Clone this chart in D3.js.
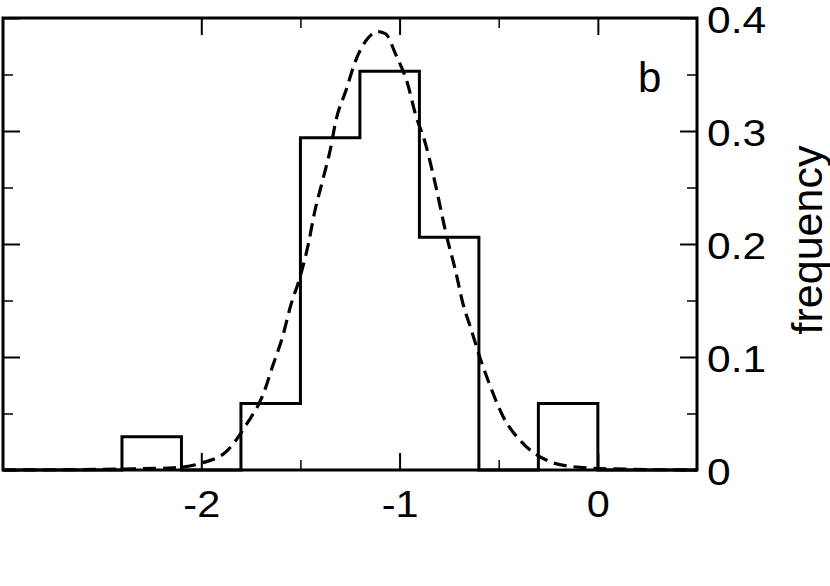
<!DOCTYPE html>
<html>
<head>
<meta charset="utf-8">
<script src="https://cdn.jsdelivr.net/npm/d3@7"></script>
<style>
  body { margin: 0; background: #fff; }
  text { font-family: "Liberation Sans", Arial, sans-serif; fill: #000; }
</style>
</head>
<body>
<svg id="chart" width="830" height="586"></svg>
<script>
// histogram: bin edges and relative frequencies (n = 34)
const binEdges = [-2.4, -2.1, -1.8, -1.5, -1.2, -0.9, -0.6, -0.3, 0];
const binFreq = [0.0294, 0, 0.0588, 0.2941, 0.3529, 0.2059, 0, 0.0588];

// dashed fitted curve
const fitX = [-3, -2.34, -2.14, -2.0, -1.87, -1.77, -1.69, -1.64, -1.59, -1.55, -1.50, -1.46,
  -1.43, -1.39, -1.35, -1.32, -1.27, -1.22, -1.16, -1.11, -1.07, -1.02, -0.96, -0.92, -0.87,
  -0.83, -0.76, -0.72, -0.68, -0.64, -0.59, -0.54, -0.48, -0.38, -0.25, -0.13, 0.07, 0.5];
const fitY = [0, 0.001, 0.002, 0.006, 0.017, 0.041, 0.066, 0.092, 0.118, 0.145, 0.172, 0.200,
  0.227, 0.255, 0.283, 0.310, 0.336, 0.363, 0.382, 0.388, 0.386, 0.368, 0.342, 0.315, 0.289,
  0.261, 0.205, 0.178, 0.147, 0.125, 0.097, 0.073, 0.048, 0.024, 0.008, 0.003, 0.001, 0];

const xMajor = [-2, -1, 0];
const xMinor = [-1.5, -0.5];
const xLabels = ["-2", "-1", "0"];
const yMajor = [0, 0.1, 0.2, 0.3, 0.4];
const yMinor = [0.05, 0.15, 0.25, 0.35];
const yLabels = ["0", "0.1", "0.2", "0.3", "0.4"];

const padL = 3, padR = 697, padT = 18, padB = 470;

const svg = d3.select('#chart');

const x = d3.scaleLinear().domain([-3, 0.5]).range([padL, padR]);
const y = d3.scaleLinear().domain([0, 0.4]).range([padB, padT]);

const minorLen = 10, majorLen = 17;
function drawTicks(axis, tr, cls) {
  const g = svg.append('g').attr('class', cls).attr('transform', tr).call(axis);
  g.select('.domain').remove();
  return g;
}
// minor ticks (inward) on all four sides
drawTicks(d3.axisBottom(x).tickValues(xMinor).tickSize(-minorLen).tickFormat(''), `translate(0,${padB})`, 'minor')
drawTicks(d3.axisTop(x).tickValues(xMinor).tickSize(-minorLen).tickFormat(''), `translate(0,${padT})`, 'minor')
drawTicks(d3.axisLeft(y).tickValues(yMinor).tickSize(-minorLen).tickFormat(''), `translate(${padL},0)`, 'minor')
drawTicks(d3.axisRight(y).tickValues(yMinor).tickSize(-minorLen).tickFormat(''), `translate(${padR},0)`, 'minor')

// major ticks
const xb = drawTicks(d3.axisBottom(x).tickValues(xMajor).tickSize(-majorLen).tickPadding(21)
  .tickFormat((d, i) => xLabels[i]), `translate(0,${padB})`, 'major');
drawTicks(d3.axisTop(x).tickValues(xMajor).tickSize(-majorLen).tickFormat(''), `translate(0,${padT})`, 'major')
drawTicks(d3.axisLeft(y).tickValues(yMajor).tickSize(-majorLen).tickFormat(''), `translate(${padL},0)`, 'major')
const yr = drawTicks(d3.axisRight(y).tickValues(yMajor).tickSize(-majorLen).tickPadding(10)
  .tickFormat((d, i) => yLabels[i]), `translate(${padR},0)`, 'major');

svg.selectAll('.minor line').attr('stroke', '#111').attr('stroke-width', 1.6);
svg.selectAll('.major line').attr('stroke', '#000').attr('stroke-width', 2);

// labels in the reference are a little wider than Liberation Sans: stretch them
function widen(sel, k) {
  sel.each(function () {
    const w = this.getComputedTextLength();
    d3.select(this).attr('textLength', w * k).attr('lengthAdjust', 'spacingAndGlyphs');
  });
}
xb.selectAll('text').attr('font-size', 37).attr('font-family', null).attr('dy', '0.71em');
yr.selectAll('text').attr('font-size', 37).attr('font-family', null).attr('dy', '0.4em');
svg.selectAll('.tick text').attr('fill', '#000');
widen(xb.selectAll('text'), 1.12);
widen(yr.selectAll('text'), 1.15);

// histogram as a step line
const histPts = [[-3, 0]].concat(binFreq.map((f, i) => [binEdges[i], f]), [[0, 0], [0.5, 0]]);
const stepLine = d3.line().x(d => x(d[0])).y(d => y(d[1])).curve(d3.curveStepAfter);
svg.append('path')
  .datum(histPts)
  .attr('d', stepLine)
  .attr('fill', 'none')
  .attr('stroke', '#000')
  .attr('stroke-width', 3)
  .attr('stroke-linejoin', 'miter');

// dashed fit
const fitLine = d3.line().x(d => x(d[0])).y(d => y(d[1])).curve(d3.curveMonotoneX);
svg.append('path')
  .datum(fitX.map((v, i) => [v, fitY[i]]))
  .attr('d', fitLine)
  .attr('fill', 'none')
  .attr('stroke', '#000')
  .attr('stroke-width', 3.2)
  .attr('stroke-dasharray', '13,7');

// frame
svg.append('rect')
  .attr('x', padL).attr('y', padT)
  .attr('width', padR - padL).attr('height', padB - padT)
  .attr('fill', 'none').attr('stroke', '#000').attr('stroke-width', 3);

// panel letter and axis title
svg.append('text').attr('x', 638).attr('y', 92).attr('font-size', 42).text('b');
svg.append('text')
  .attr('transform', `translate(822,240) rotate(-90)`)
  .attr('text-anchor', 'middle')
  .attr('font-size', 43)
  .text('frequency');
</script>
</body>
</html>
